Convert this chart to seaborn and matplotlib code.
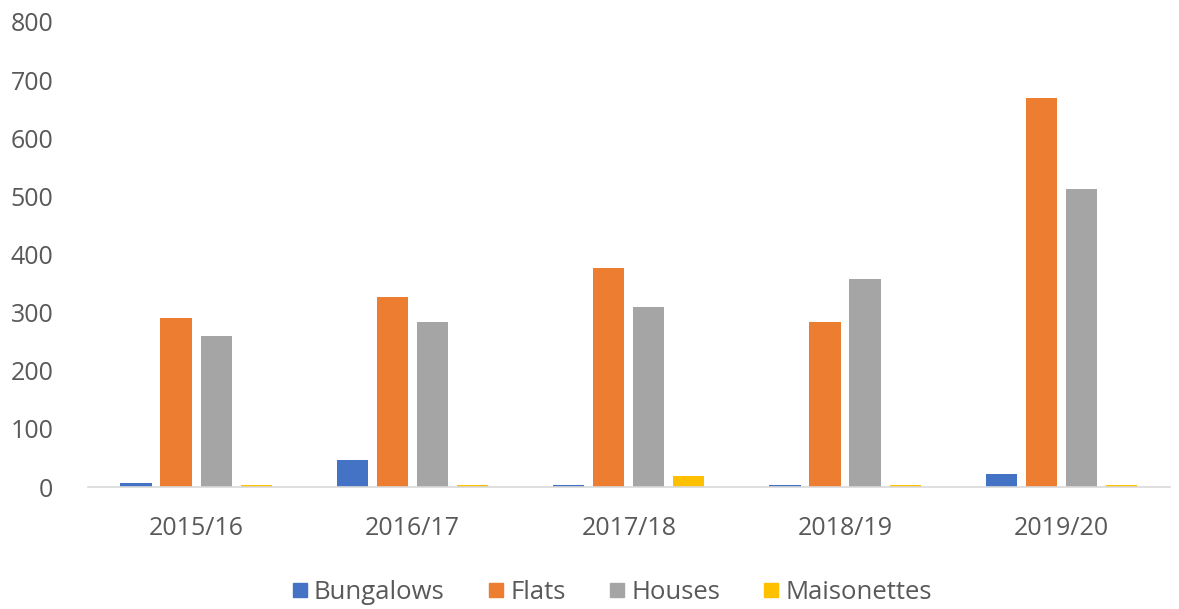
import matplotlib
matplotlib.use("Agg")
import matplotlib.pyplot as plt
from matplotlib.lines import Line2D
import seaborn as sns
import pandas as pd

years = ["2015/16", "2016/17", "2017/18", "2018/19", "2019/20"]
bungalows = [7, 46, 4, 4, 22]
flats = [290, 326, 376, 283, 669]
houses = [259, 283, 309, 357, 513]
maisonettes = [4, 4, 19, 4, 4]

series_names = ["Bungalows", "Flats", "Houses", "Maisonettes"]
colors = ["#4472C4", "#ED7D31", "#A5A5A5", "#FFC000"]

df = pd.DataFrame({
    "Year": years * 4,
    "Type": [n for n in series_names for _ in years],
    "Count": bungalows + flats + houses + maisonettes,
})

sns.set_theme(style="white")
plt.rcParams["font.family"] = ["Open Sans", "DejaVu Sans"]

fig = plt.figure(figsize=(11.79, 6.09), dpi=100)
ax = fig.add_axes([0.0746, 0.2003, 0.9174, 0.7637])

sns.barplot(data=df, x="Year", y="Count", hue="Type", order=years,
            hue_order=series_names, palette=colors, width=0.74, gap=0.22,
            saturation=1, ax=ax, legend=False, linewidth=0, edgecolor="none")

ax.set_ylim(0, 800)
ax.set_yticks(range(0, 801, 100))
ax.set_xlim(-0.5, 4.5)
ax.set_xlabel("")
ax.set_ylabel("")
for s in ["top", "right", "left"]:
    ax.spines[s].set_visible(False)
ax.spines["bottom"].set_color("#D9D9D9")
ax.spines["bottom"].set_linewidth(1.2)
ax.tick_params(axis="both", length=0, labelsize=18, colors="#595959")
ax.tick_params(axis="y", pad=25)
ax.tick_params(axis="x", pad=21)

proxies = [Line2D([], [], marker="s", linestyle="", markersize=10,
                  markerfacecolor=c, markeredgecolor=c) for c in colors]
leg = fig.legend(proxies, series_names, loc="center", bbox_to_anchor=(0.518, 0.027),
                 ncol=4, frameon=False, fontsize=18.5, handletextpad=0.15,
                 columnspacing=1.6, handlelength=0.8)
for t in leg.get_texts():
    t.set_color("#595959")

fig.savefig("out.png", dpi=100)
